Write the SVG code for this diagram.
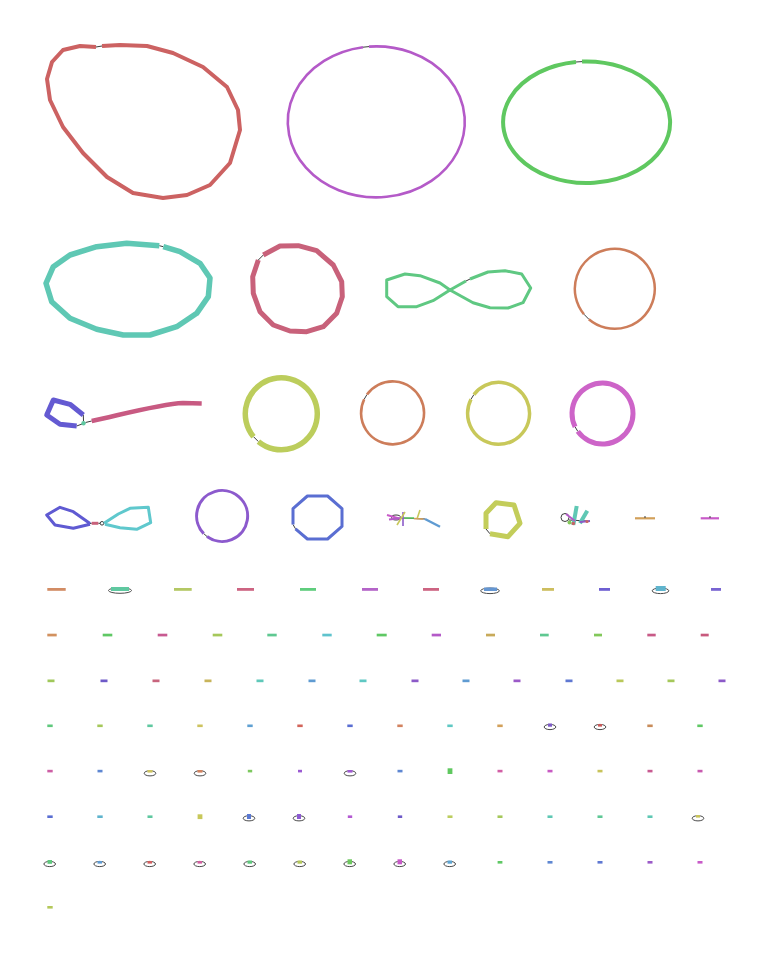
<svg xmlns="http://www.w3.org/2000/svg" width="765" height="953" viewBox="0 0 765 953">
<style>
.lp{fill:none;stroke-linejoin:round;stroke-linecap:butt}
.cn{fill:none;stroke:#3c3c3c;stroke-width:1}
.ov{fill:none;stroke:#4a4a4a;stroke-width:1}
.s{stroke:none}
</style>
<rect width="765" height="953" fill="#ffffff"/>
<g id="connectors">
<line class="cn" x1="96" y1="47" x2="102" y2="46"/>
<line class="cn" x1="363" y1="47.2" x2="369" y2="46.6"/>
<line class="cn" x1="576" y1="62" x2="582" y2="61.6"/>
<line class="cn" x1="159.3" y1="245.7" x2="163.3" y2="246.7"/>
<line class="cn" x1="258.3" y1="260" x2="263.3" y2="255"/>
<line class="cn" x1="466" y1="281" x2="470" y2="279"/>
<line class="cn" x1="583.9" y1="314.2" x2="588.8" y2="319.2"/>
<line class="cn" x1="83.3" y1="415" x2="83.5" y2="421"/>
<line class="cn" x1="76.7" y1="426" x2="82" y2="424"/>
<line class="cn" x1="85.5" y1="422.5" x2="91.7" y2="421"/>
<line class="cn" x1="253.5" y1="436.7" x2="258.4" y2="441.6"/>
<line class="cn" x1="364.2" y1="399.2" x2="367" y2="394.5"/>
<line class="cn" x1="471" y1="399.2" x2="473.9" y2="394.6"/>
<line class="cn" x1="575.1" y1="426.9" x2="577.8" y2="431.4"/>
<line class="cn" x1="90" y1="523.5" x2="91.7" y2="523.3"/>
<line class="cn" x1="98.3" y1="523.3" x2="100.2" y2="523.3"/>
<circle class="cn" cx="102" cy="523.3" r="1.8"/>
<line class="cn" x1="203.7" y1="533.6" x2="207" y2="536.5"/>
<line class="cn" x1="293" y1="524.5" x2="295.5" y2="528.8"/>
<line class="cn" x1="486" y1="529" x2="490" y2="533.8"/>
<ellipse class="cn" cx="396" cy="517.5" rx="4.5" ry="2.5"/>
<line class="cn" x1="400" y1="518" x2="425" y2="519"/>
<ellipse class="cn" cx="565" cy="517.5" rx="4" ry="4"/>
<line class="cn" x1="569" y1="520" x2="587" y2="521"/>
</g>
<g id="n1"><path class="lp" stroke="#cc6262" stroke-width="4" d="M102,46 L120,45 L147,46 L173,53 L203,67 L227,87 L238,110 L240,130 L230,163 L210,185 L187,195 L163,198 L133,193 L107,177 L83,153 L63,127 L50,100 L47,79 L52,62 L63,50 L80,46 L96,47"/></g>
<g id="n2"><path class="lp" stroke="#b45ac8" stroke-width="2.6" d="M369,46.6 A88.5,75.5 0 1 1 363,47.2"/></g>
<g id="n3"><path class="lp" stroke="#5fc860" stroke-width="4" d="M582,61.6 A83.5,60.8 0 1 1 576,62"/></g>
<g id="n4"><path class="lp" stroke="#5fc8b4" stroke-width="5.5" d="M163.3,246.7 L180,251.7 L200,263.3 L210,278 L208.3,296.7 L196.7,313.3 L176.7,326.7 L150,335 L123.3,335 L96.7,329.3 L70,318.3 L51.7,301.7 L46,283.3 L53.3,266.7 L70,255 L96.7,246.7 L126.7,243.3 L159.3,245.7"/></g>
<g id="n5"><path class="lp" stroke="#c8617a" stroke-width="5" d="M263.3,255 L280,246 L298.3,245.7 L316.7,250.7 L333.3,265 L341.7,281.7 L342.3,296.7 L336.7,313.3 L323.3,326.7 L306.7,331.7 L290,331 L273.3,325 L260,311.7 L253.3,293.3 L252.7,276.7 L258.3,260"/></g>
<g id="n6"><path class="lp" stroke="#5fc882" stroke-width="3" d="M470,279 L488,272 L505,270.7 L521.7,274 L530.7,288 L523,302.7 L508,308 L490,307.7 L473,302.7 L450,290 L440,283 L420,275.7 L405,274 L386.7,280 L386.7,296.7 L398,306.7 L416.7,306.7 L433,300.7 L450,290 L466,281"/></g>
<g id="n7"><path class="lp" stroke="#cd7d5a" stroke-width="2.5" d="M588.8,319.2 A40,40 0 1 0 583.9,314.2"/></g>
<g id="n8"><path class="lp" stroke="#645ad2" stroke-width="5" d="M83.3,415 L70,404.3 L53.3,400 L46.7,415 L60,424.3 L76.7,426"/></g>
<g id="n9"><circle cx="83.5" cy="423.3" r="2.2" fill="#5fc8a0"/></g>
<g id="n10"><path class="lp" stroke="#c85a82" stroke-width="4.6" d="M91.7,421 C120,415 160,404 183,403 L201.7,403.5"/></g>
<g id="n11"><path class="lp" stroke="#bccd5c" stroke-width="5.5" d="M258.4,441.6 A36,36 0 1 0 253.5,436.7"/></g>
<g id="n12"><path class="lp" stroke="#cd7d5a" stroke-width="2.6" d="M367,394.5 A31.5,31.5 0 1 1 364.2,399.2"/></g>
<g id="n13"><path class="lp" stroke="#c8c85a" stroke-width="3.5" d="M473.9,394.6 A31,31 0 1 1 471,399.2"/></g>
<g id="n14"><path class="lp" stroke="#cd64c8" stroke-width="5" d="M577.8,431.4 A30.5,30.5 0 1 0 575.1,426.9"/></g>
<g id="n15"><path class="lp" stroke="#5f5ad2" stroke-width="3" d="M90,523.5 L73.3,511.7 L60,507.3 L46.7,515 L55,525 L73.3,528.3 L90,524.3"/></g>
<g id="n16"><line x1="91.7" y1="523.3" x2="98.3" y2="523.3" stroke="#c8607a" stroke-width="3"/></g>
<g id="n17"><path class="lp" stroke="#5fc8cd" stroke-width="3" d="M104,523.3 L118.3,514 L130,508.3 L148.3,507.3 L150.7,522.7 L136.7,529.3 L120,527.7 L105,524.3"/></g>
<g id="n18"><path class="lp" stroke="#8c5acd" stroke-width="3" d="M207,536.5 A25.5,25.5 0 1 0 203.7,533.6"/></g>
<g id="n19"><path class="lp" stroke="#5a6ed2" stroke-width="3" d="M295.5,528.8 L307.4,539 L327.6,539 L342,526.4 L342,508.6 L327.6,496 L307.4,496 L293,508.6 L293,524.5"/></g>
<g id="n20">
<line x1="387" y1="515" x2="401" y2="519" stroke="#c85ac8" stroke-width="2"/>
<line x1="389" y1="519.5" x2="402" y2="518" stroke="#b45ac8" stroke-width="2"/>
<line x1="403" y1="512" x2="403" y2="526" stroke="#8c5ac8" stroke-width="1.6"/>
<line x1="397" y1="525" x2="405" y2="512" stroke="#c8c85a" stroke-width="1.6"/>
<line x1="404" y1="518" x2="414" y2="518" stroke="#5fc864" stroke-width="1.6"/>
<line x1="420" y1="510" x2="417" y2="519" stroke="#c8c85a" stroke-width="1.6"/>
<line x1="414" y1="518.5" x2="423" y2="519" stroke="#d2a05a" stroke-width="1.6"/>
<line x1="425" y1="519" x2="440" y2="526.7" stroke="#5f9bd2" stroke-width="2.4"/>
</g>
<g id="n21"><path class="lp" stroke="#c3cd5a" stroke-width="5" d="M490,533.8 L508,536.7 L520,523.3 L514,505 L496,502.7 L486,513.3 L486,529"/></g>
<g id="n22">
<line x1="576.7" y1="506" x2="573.3" y2="525" stroke="#5fc8b4" stroke-width="4"/>
<line x1="587.3" y1="510.7" x2="580" y2="523.3" stroke="#5fc8b4" stroke-width="4"/>
<line x1="566" y1="514" x2="575" y2="521" stroke="#b45ac8" stroke-width="2"/>
<line x1="580" y1="522" x2="590" y2="521" stroke="#8c5ac8" stroke-width="2"/>
<circle cx="569.5" cy="522.5" r="2" fill="#82c85a"/>
<circle cx="573.3" cy="523.5" r="1.8" fill="#c86464"/>
<circle cx="587" cy="521.5" r="1.6" fill="#c86464"/>
</g>
<g id="n23"><line x1="635" y1="518.3" x2="655" y2="518.3" stroke="#d2a05a" stroke-width="2.2"/><line class="cn" x1="644" y1="517" x2="646" y2="517"/></g>
<g id="n24"><line x1="700.7" y1="518.3" x2="719" y2="518.3" stroke="#c85ac8" stroke-width="2.2"/><line class="cn" x1="709" y1="517" x2="711" y2="517"/></g>
<g id="r5a"><rect class="s" x="47.3" y="588" width="18.4" height="2.8" fill="#d28c64"/></g>
<g id="r5b"><ellipse class="ov" cx="120" cy="590.5" rx="11.5" ry="2.8"/><rect class="s" x="111" y="587" width="18" height="4" fill="#5fc8a0"/></g>
<g id="r5c"><rect class="s" x="174" y="588" width="17.7" height="2.8" fill="#b4c864"/></g>
<g id="r5d"><rect class="s" x="237" y="588" width="17" height="2.8" fill="#cd6482"/></g>
<g id="r5e"><rect class="s" x="300" y="588" width="16" height="2.8" fill="#5fcd7d"/></g>
<g id="r5f"><rect class="s" x="362" y="588" width="16" height="2.8" fill="#b464c8"/></g>
<g id="r5g"><rect class="s" x="423" y="588" width="16" height="2.8" fill="#cd6482"/></g>
<g id="r5h"><ellipse class="ov" cx="490" cy="590.8" rx="9.3" ry="2.8"/><rect class="s" x="484" y="587.5" width="13" height="3.5" fill="#6496d2"/></g>
<g id="r5i"><rect class="s" x="542" y="588" width="12" height="2.8" fill="#cdbe5f"/></g>
<g id="r5j"><rect class="s" x="599" y="588" width="11" height="2.8" fill="#6e5fd2"/></g>
<g id="r5k"><ellipse class="ov" cx="660.5" cy="590.8" rx="8.3" ry="2.8"/><rect class="s" x="655.7" y="586" width="10" height="5" fill="#5fb4cd"/></g>
<g id="r5l"><rect class="s" x="711" y="588" width="10" height="2.8" fill="#7864d2"/></g>
<g id="r6a"><rect class="s" x="47.3" y="633.7" width="9.4" height="2.7" fill="#d2915f"/></g>
<g id="r6b"><rect class="s" x="102.7" y="633.7" width="9.6" height="2.7" fill="#5fc864"/></g>
<g id="r6c"><rect class="s" x="157.7" y="633.7" width="9.6" height="2.7" fill="#c85a91"/></g>
<g id="r6d"><rect class="s" x="212.7" y="633.7" width="9.6" height="2.7" fill="#a5c85a"/></g>
<g id="r6e"><rect class="s" x="267.3" y="633.7" width="9.4" height="2.7" fill="#5fc891"/></g>
<g id="r6f"><rect class="s" x="322.3" y="633.7" width="9.4" height="2.7" fill="#5fc3cd"/></g>
<g id="r6g"><rect class="s" x="376.7" y="633.7" width="10" height="2.7" fill="#5fc864"/></g>
<g id="r6h"><rect class="s" x="431.7" y="633.7" width="9.3" height="2.7" fill="#b45ac8"/></g>
<g id="r6i"><rect class="s" x="486" y="633.7" width="9" height="2.7" fill="#c8aa5a"/></g>
<g id="r6j"><rect class="s" x="540" y="633.7" width="8.7" height="2.7" fill="#5fc891"/></g>
<g id="r6k"><rect class="s" x="594" y="633.7" width="8" height="2.7" fill="#82c85a"/></g>
<g id="r6l"><rect class="s" x="647.3" y="633.7" width="8.4" height="2.7" fill="#c85a87"/></g>
<g id="r6m"><rect class="s" x="700.7" y="633.7" width="8" height="2.7" fill="#c85a7d"/></g>
<g id="r7a"><rect class="s" x="47.5" y="679.5" width="7" height="2.7" fill="#a0c85a"/></g>
<g id="r7b"><rect class="s" x="100.5" y="679.5" width="7" height="2.7" fill="#6e5ac8"/></g>
<g id="r7c"><rect class="s" x="152.5" y="679.5" width="7" height="2.7" fill="#c8647d"/></g>
<g id="r7d"><rect class="s" x="204.5" y="679.5" width="7" height="2.7" fill="#c8b45a"/></g>
<g id="r7e"><rect class="s" x="256.5" y="679.5" width="7" height="2.7" fill="#5fc8b9"/></g>
<g id="r7f"><rect class="s" x="308.5" y="679.5" width="7" height="2.7" fill="#5f9bd2"/></g>
<g id="r7g"><rect class="s" x="359.5" y="679.5" width="7" height="2.7" fill="#5fc8c3"/></g>
<g id="r7h"><rect class="s" x="411.5" y="679.5" width="7" height="2.7" fill="#8c5ac8"/></g>
<g id="r7i"><rect class="s" x="462.5" y="679.5" width="7" height="2.7" fill="#5f9bd2"/></g>
<g id="r7j"><rect class="s" x="513.5" y="679.5" width="7" height="2.7" fill="#9b5ac8"/></g>
<g id="r7k"><rect class="s" x="565.5" y="679.5" width="7" height="2.7" fill="#5f78d2"/></g>
<g id="r7l"><rect class="s" x="616.5" y="679.5" width="7" height="2.7" fill="#b9c85a"/></g>
<g id="r7m"><rect class="s" x="667.5" y="679.5" width="7" height="2.7" fill="#a5c85a"/></g>
<g id="r7n"><rect class="s" x="718.5" y="679.5" width="7" height="2.7" fill="#8c5ac8"/></g>
<g id="r8a"><rect class="s" x="47.3" y="724.5" width="5.4" height="2.6" fill="#5fc87d"/></g>
<g id="r8b"><rect class="s" x="97.3" y="724.5" width="5.4" height="2.6" fill="#a5c85a"/></g>
<g id="r8c"><rect class="s" x="147.3" y="724.5" width="5.4" height="2.6" fill="#5fc8a0"/></g>
<g id="r8d"><rect class="s" x="197.3" y="724.5" width="5.4" height="2.6" fill="#cdc35f"/></g>
<g id="r8e"><rect class="s" x="247.3" y="724.5" width="5.4" height="2.6" fill="#5fa0d2"/></g>
<g id="r8f"><rect class="s" x="297.3" y="724.5" width="5.4" height="2.6" fill="#d2645a"/></g>
<g id="r8g"><rect class="s" x="347.3" y="724.5" width="5.4" height="2.6" fill="#5a6ed2"/></g>
<g id="r8h"><rect class="s" x="397.3" y="724.5" width="5.4" height="2.6" fill="#d2825f"/></g>
<g id="r8i"><rect class="s" x="447.3" y="724.5" width="5.4" height="2.6" fill="#5fc8c3"/></g>
<g id="r8j"><rect class="s" x="497.3" y="724.5" width="5.4" height="2.6" fill="#d2a05a"/></g>
<g id="r8k"><ellipse class="ov" cx="550" cy="727" rx="5.8" ry="2.6"/><rect class="s" x="548" y="723.5" width="4" height="3.2" fill="#7d5ac8"/></g>
<g id="r8l"><ellipse class="ov" cx="600" cy="727" rx="5.8" ry="2.6"/><rect class="s" x="598" y="724" width="4" height="2.6" fill="#c85a5a"/></g>
<g id="r8m"><rect class="s" x="647.3" y="724.5" width="5.4" height="2.6" fill="#c88c5a"/></g>
<g id="r8n"><rect class="s" x="697.3" y="724.5" width="5.4" height="2.6" fill="#5fc864"/></g>
<g id="r9a"><rect class="s" x="47.3" y="769.8" width="5.4" height="2.6" fill="#cd5fa5"/></g>
<g id="r9b"><rect class="s" x="97.5" y="769.8" width="5" height="2.6" fill="#5f87d2"/></g>
<g id="r9c"><ellipse class="ov" cx="150" cy="773.3" rx="5.8" ry="2.6"/><rect class="s" x="147.5" y="770" width="5" height="2.6" fill="#cdc35f"/></g>
<g id="r9d"><ellipse class="ov" cx="200" cy="773.3" rx="5.8" ry="2.6"/><rect class="s" x="197.5" y="770" width="5" height="2.6" fill="#d2825f"/></g>
<g id="r9e"><rect class="s" x="247.8" y="769.8" width="4.4" height="2.6" fill="#7dc85f"/></g>
<g id="r9f"><rect class="s" x="298" y="769.8" width="4" height="2.6" fill="#9b5ad2"/></g>
<g id="r9g"><ellipse class="ov" cx="350" cy="773.3" rx="5.8" ry="2.6"/><rect class="s" x="347.5" y="770" width="5" height="2.6" fill="#a05ad2"/></g>
<g id="r9h"><rect class="s" x="397.5" y="769.8" width="5" height="2.6" fill="#5f87d2"/></g>
<g id="r9i"><rect class="s" x="447.6" y="768.3" width="4.8" height="5.7" fill="#5fc85f"/></g>
<g id="r9j"><rect class="s" x="497.5" y="769.8" width="5" height="2.6" fill="#d25fa5"/></g>
<g id="r9k"><rect class="s" x="547.5" y="769.8" width="5" height="2.6" fill="#c85ac3"/></g>
<g id="r9l"><rect class="s" x="597.5" y="769.8" width="5" height="2.6" fill="#c8c35a"/></g>
<g id="r9m"><rect class="s" x="647.5" y="769.8" width="5" height="2.6" fill="#c85a91"/></g>
<g id="r9n"><rect class="s" x="697.5" y="769.8" width="5" height="2.6" fill="#c85aaf"/></g>
<g id="r10a"><rect class="s" x="47.3" y="815.4" width="5.4" height="2.6" fill="#5a6ed2"/></g>
<g id="r10b"><rect class="s" x="97.3" y="815.4" width="5.4" height="2.6" fill="#5fb4cd"/></g>
<g id="r10c"><rect class="s" x="147.5" y="815.4" width="5" height="2.6" fill="#5fc8a0"/></g>
<g id="r10d"><rect class="s" x="197.6" y="814.3" width="4.8" height="4.8" fill="#c8c85a"/></g>
<g id="r10e"><ellipse class="ov" cx="249" cy="818.3" rx="5.8" ry="2.6"/><rect class="s" x="247" y="814" width="4" height="5" fill="#5a78d2"/></g>
<g id="r10f"><ellipse class="ov" cx="299" cy="818.3" rx="5.8" ry="2.6"/><rect class="s" x="297" y="814" width="4" height="5" fill="#8c5ad2"/></g>
<g id="r10g"><rect class="s" x="347.8" y="815.4" width="4.4" height="2.6" fill="#b45ad2"/></g>
<g id="r10h"><rect class="s" x="397.8" y="815.4" width="4.4" height="2.6" fill="#6e5ac8"/></g>
<g id="r10i"><rect class="s" x="447.5" y="815.4" width="5" height="2.6" fill="#bccd5f"/></g>
<g id="r10j"><rect class="s" x="497.5" y="815.4" width="5" height="2.6" fill="#a5c85a"/></g>
<g id="r10k"><rect class="s" x="547.5" y="815.4" width="5" height="2.6" fill="#5fc8b4"/></g>
<g id="r10l"><rect class="s" x="597.5" y="815.4" width="5" height="2.6" fill="#5fc896"/></g>
<g id="r10m"><rect class="s" x="647.5" y="815.4" width="5" height="2.6" fill="#5fc8b4"/></g>
<g id="r10n"><ellipse class="ov" cx="698" cy="818.3" rx="5.8" ry="2.6"/><rect class="s" x="696" y="815" width="4" height="2.6" fill="#c8c35a"/></g>
<g id="r11a"><ellipse class="ov" cx="49.7" cy="864" rx="5.8" ry="2.6"/><rect class="s" x="47.5" y="860" width="4.5" height="3.8" fill="#5fc87d"/></g>
<g id="r11b"><ellipse class="ov" cx="99.7" cy="864" rx="5.8" ry="2.6"/><rect class="s" x="97.5" y="861" width="4.5" height="2.6" fill="#5f9bd2"/></g>
<g id="r11c"><ellipse class="ov" cx="149.7" cy="864" rx="5.8" ry="2.6"/><rect class="s" x="147.5" y="861" width="4.5" height="2.6" fill="#d25f5f"/></g>
<g id="r11d"><ellipse class="ov" cx="199.7" cy="864" rx="5.8" ry="2.6"/><rect class="s" x="197.5" y="861" width="4.5" height="2.6" fill="#d25fa0"/></g>
<g id="r11e"><ellipse class="ov" cx="249.7" cy="864" rx="5.8" ry="2.6"/><rect class="s" x="247.5" y="860.5" width="4.5" height="3.2" fill="#5fc87d"/></g>
<g id="r11f"><ellipse class="ov" cx="299.7" cy="864" rx="5.8" ry="2.6"/><rect class="s" x="297.5" y="860.5" width="4.5" height="3.2" fill="#b4c85a"/></g>
<g id="r11g"><ellipse class="ov" cx="349.7" cy="864" rx="5.8" ry="2.6"/><rect class="s" x="347.5" y="859.3" width="4.5" height="5" fill="#6ec85f"/></g>
<g id="r11h"><ellipse class="ov" cx="399.7" cy="864" rx="5.8" ry="2.6"/><rect class="s" x="397.5" y="859.3" width="4.5" height="5" fill="#c85ac8"/></g>
<g id="r11i"><ellipse class="ov" cx="449.7" cy="864" rx="5.8" ry="2.6"/><rect class="s" x="447.5" y="860.5" width="4.5" height="3.2" fill="#5fa5d2"/></g>
<g id="r11j"><rect class="s" x="497.6" y="861" width="4.8" height="2.6" fill="#5fc864"/></g>
<g id="r11k"><rect class="s" x="547.5" y="861" width="5" height="2.6" fill="#5f87d2"/></g>
<g id="r11l"><rect class="s" x="597.5" y="861" width="5" height="2.6" fill="#5f78d2"/></g>
<g id="r11m"><rect class="s" x="647.5" y="861" width="5" height="2.6" fill="#9b5ac8"/></g>
<g id="r11n"><rect class="s" x="697.5" y="861" width="5" height="2.6" fill="#c85ac8"/></g>
<g id="r12a"><rect class="s" x="47.3" y="906" width="5.4" height="2.6" fill="#b4c85a"/></g>
</svg>
